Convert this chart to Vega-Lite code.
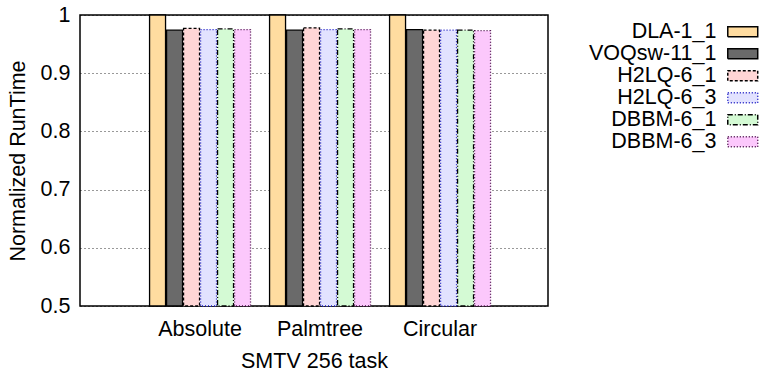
{
  "$schema": "https://vega.github.io/schema/vega-lite/v6.json",
  "width": 468,
  "height": 291,
  "padding": {"left": 7, "top": 4, "right": 0, "bottom": 0},
  "autosize": {"type": "pad"},
  "config": {
    "font": "Liberation Sans",
    "view": {"stroke": "#000", "strokeWidth": 1.5},
    "axis": {
      "labelFontSize": 21.5, "titleFontSize": 21.5,
      "labelColor": "#000", "titleColor": "#000",
      "titleFontWeight": "normal",
      "labelFont": "Liberation Sans", "titleFont": "Liberation Sans"
    },
    "legend": {
      "orient": "none",
      "legendX": 652,
      "legendY": 6,
      "symbolType": "M-2.14,-0.72H2.14V0.72H-2.14Z",
      "symbolSize": 196,
      "symbolStrokeWidth": 1.5,
      "labelAlign": "right",
      "labelOffset": -37,
      "labelFontSize": 21.5,
      "labelFont": "Liberation Sans",
      "labelColor": "#000",
      "rowPadding": -1.2,
      "title": null
    }
  },
  "data": {
    "values": [
      {"task": "Absolute", "series": "DLA-1_1", "value": 1.0},
      {"task": "Absolute", "series": "VOQsw-11_1", "value": 0.974},
      {"task": "Absolute", "series": "H2LQ-6_1", "value": 0.977},
      {"task": "Absolute", "series": "H2LQ-6_3", "value": 0.975},
      {"task": "Absolute", "series": "DBBM-6_1", "value": 0.976},
      {"task": "Absolute", "series": "DBBM-6_3", "value": 0.975},
      {"task": "Palmtree", "series": "DLA-1_1", "value": 1.0},
      {"task": "Palmtree", "series": "VOQsw-11_1", "value": 0.974},
      {"task": "Palmtree", "series": "H2LQ-6_1", "value": 0.978},
      {"task": "Palmtree", "series": "H2LQ-6_3", "value": 0.975},
      {"task": "Palmtree", "series": "DBBM-6_1", "value": 0.976},
      {"task": "Palmtree", "series": "DBBM-6_3", "value": 0.975},
      {"task": "Circular", "series": "DLA-1_1", "value": 1.0},
      {"task": "Circular", "series": "VOQsw-11_1", "value": 0.975},
      {"task": "Circular", "series": "H2LQ-6_1", "value": 0.974},
      {"task": "Circular", "series": "H2LQ-6_3", "value": 0.974},
      {"task": "Circular", "series": "DBBM-6_1", "value": 0.974},
      {"task": "Circular", "series": "DBBM-6_3", "value": 0.973}
    ]
  },
  "mark": {"type": "bar", "strokeWidth": 1.3},
  "encoding": {
    "x": {
      "field": "task", "type": "nominal",
      "sort": ["Absolute", "Palmtree", "Circular"],
      "scale": {"paddingInner": 0, "paddingOuter": 0.45, "align": 0.556},
      "axis": {"title": "SMTV 256 task", "labelAngle": 0, "ticks": false, "domain": false, "labelPadding": 12, "titlePadding": 11}
    },
    "xOffset": {
      "field": "series", "type": "nominal",
      "sort": ["DLA-1_1", "VOQsw-11_1", "H2LQ-6_1", "H2LQ-6_3", "DBBM-6_1", "DBBM-6_3"],
      "scale": {"paddingInner": 0.06, "paddingOuter": 0.56}
    },
    "y": {
      "field": "value", "type": "quantitative",
      "scale": {"domain": [0.5, 1], "zero": false, "nice": false},
      "axis": {
        "title": "Normalized RunTime",
        "values": [0.5, 0.6, 0.7, 0.8, 0.9, 1],
        "format": "~g",
        "ticks": false, "domain": false,
        "labelPadding": 10, "titlePadding": 11,
        "gridDash": [1, 3], "gridColor": "#000", "gridOpacity": 0.8
      }
    },
    "y2": {"datum": 0.5},
    "fill": {
      "field": "series", "type": "nominal",
      "scale": {
        "domain": ["DLA-1_1", "VOQsw-11_1", "H2LQ-6_1", "H2LQ-6_3", "DBBM-6_1", "DBBM-6_3"],
        "range": ["#ffdca0", "#6a6a6a", "#ffd6d6", "#e2e2ff", "#d4fad4", "#fcc8fc"]
      }
    },
    "stroke": {
      "field": "series", "type": "nominal",
      "scale": {
        "domain": ["DLA-1_1", "VOQsw-11_1", "H2LQ-6_1", "H2LQ-6_3", "DBBM-6_1", "DBBM-6_3"],
        "range": ["#000000", "#000000", "#000000", "#1010c0", "#000000", "#400040"]
      }
    },
    "strokeDash": {
      "field": "series", "type": "nominal",
      "scale": {
        "domain": ["DLA-1_1", "VOQsw-11_1", "H2LQ-6_1", "H2LQ-6_3", "DBBM-6_1", "DBBM-6_3"],
        "range": [[1, 0], [1, 0], [3, 2], [1, 2], [5, 2, 1, 2], [1, 2]]
      }
    }
  }
}
